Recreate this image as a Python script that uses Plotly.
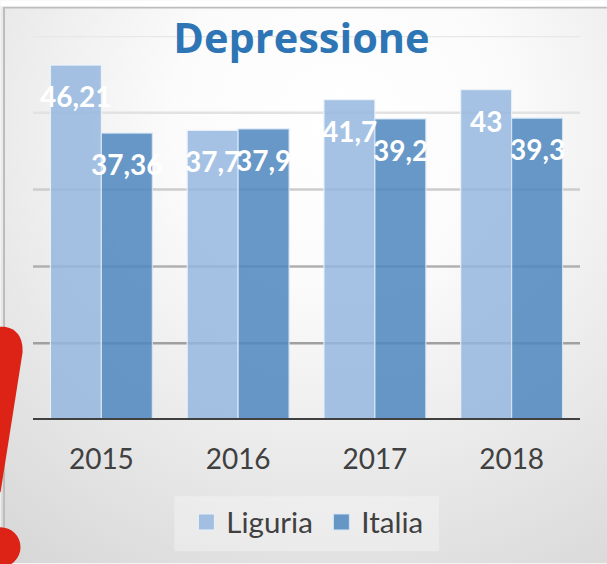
import plotly.graph_objects as go
import urllib.parse

years = ["2015", "2016", "2017", "2018"]
liguria = [46.21, 37.7, 41.7, 43]
italia = [37.36, 37.9, 39.2, 39.3]
liguria_labels = ["46,21", "37,7", "41,7", "43"]
italia_labels = ["37,36", "37,9", "39,2", "39,3"]
grid_values = [10, 20, 30, 40, 50]
grid_colors = ["#a0a0a0", "#b0b0b0", "#cdcdcd", "#e2e2e2", "#e8e8e8"]
title_text = "Depressione"
light = "rgba(148,182,223,0.84)"
dark = "rgba(78,135,190,0.86)"

W, H = 607, 564
L, R, T, B = 32.5, 27, 35.5, 143.5
pw, ph = W - L - R, H - T - B
px = lambda x: (x - L) / pw
py = lambda y: 1 - (y - T) / ph

svg = ("<svg xmlns='http://www.w3.org/2000/svg' width='607' height='564'>"
       "<defs><radialGradient id='g' gradientUnits='userSpaceOnUse' cx='340' cy='120' r='560'>"
       "<stop offset='0' stop-color='#ffffff'/><stop offset='0.3' stop-color='#fbfbfb'/>"
       "<stop offset='1' stop-color='#d6d6d6'/></radialGradient></defs>"
       "<rect x='0' y='0' width='607' height='564' fill='url(#g)'/></svg>")
bg = "data:image/svg+xml," + urllib.parse.quote(svg)

fig = go.Figure()
fig.add_bar(name="Liguria", x=years, y=liguria, legendgroup="Liguria", showlegend=False,
            marker=dict(color=light, line=dict(color="rgba(235,242,250,0.9)", width=1.2)))
fig.add_bar(name="Italia", x=years, y=italia, legendgroup="Italia", showlegend=False,
            marker=dict(color=dark, line=dict(color="rgba(215,230,245,0.9)", width=1.2)))
# legend keys, sized as in the reference (bar legend swatches have a fixed small size)
for name, col, edge in [("Liguria", light, "#eaf1f9"), ("Italia", dark, "#d7e6f5")]:
    fig.add_scatter(name=name, x=[None], y=[None], mode="markers", legendgroup=name,
                    marker=dict(symbol="square", size=16, color=col, line=dict(color=edge, width=1)))

annotations = []
for vals, labs, dx in [(liguria, liguria_labels, -25.5), (italia, italia_labels, 25.5)]:
    for i, (v, t) in enumerate(zip(vals, labs)):
        annotations.append(dict(x=i, y=v, text=t, showarrow=False, xref="x", yref="y", xshift=dx, yshift=-31,
                                font=dict(family="Lato", size=28, color="white", weight="bold")))

shapes = []
for v, c in zip(grid_values, grid_colors):
    shapes.append(dict(type="line", xref="paper", yref="y", x0=0, x1=1, y0=v, y1=v,
                       line=dict(color=c, width=2.5), layer="below"))
# baseline over the bars
shapes.append(dict(type="line", xref="paper", yref="y", x0=0, x1=1, y0=0, y1=0,
                   line=dict(color="#404040", width=4), layer="above"))
# frame
shapes.append(dict(type="path", xref="paper", yref="paper", layer="below",
                   path=f"M{px(3.5)},{py(564)} L{px(3.5)},{py(7)} L{px(607)},{py(7)}",
                   line=dict(color="#bdbdbd", width=2)))
# white strip above frame
shapes.append(dict(type="rect", xref="paper", yref="paper", layer="below", x0=px(0), x1=px(607), y0=py(0), y1=py(6),
                   fillcolor="white", line=dict(width=0)))
# legend panel
shapes.append(dict(type="rect", xref="paper", yref="paper", layer="below", x0=px(174), x1=px(439), y0=py(497), y1=py(552),
                   fillcolor="rgba(255,255,255,0.3)", line=dict(width=0)))
# red exclamation mark
shapes.append(dict(type="path", xref="paper", yref="paper", layer="above",
                   path=(f"M{px(-5)},{py(327)} L{px(4)},{py(327)} Q{px(23)},{py(330)} {px(22)},{py(353)} "
                         f"L{px(0)},{py(493)} L{px(-5)},{py(493)} Z"),
                   fillcolor="#dc2316", line=dict(width=0)))
shapes.append(dict(type="circle", xref="paper", yref="paper", layer="above",
                   x0=px(-20), x1=px(20), y0=py(528), y1=py(568),
                   fillcolor="#dc2316", line=dict(width=0)))

fig.update_layout(
    width=W, height=H, margin=dict(l=L, r=R, t=T, b=B, pad=0),
    paper_bgcolor="#f5f5f5", plot_bgcolor="rgba(0,0,0,0)",
    barmode="group", bargap=0.255, bargroupgap=0,
    title=dict(text=title_text, x=301.5 / W, xanchor="center", y=1 - 38 / H, yanchor="middle",
               font=dict(family="Open Sans", size=41.5, color="#2e75b6", weight="bold")),
    xaxis=dict(type="category", range=[-0.5, 3.5], showgrid=False, showline=False,
               ticks="", tickfont=dict(family="Lato", size=28, color="#404040"), ticklabelstandoff=20),
    yaxis=dict(range=[0, 50], showgrid=False, showticklabels=False, ticks="", zeroline=False),
    legend=dict(orientation="h", x=px(186), y=py(497), xanchor="left", yanchor="top",
                bgcolor="rgba(0,0,0,0)", font=dict(family="Lato", size=29.5, color="#404040"),
                itemwidth=30, entrywidth=90, entrywidthmode="pixels", traceorder="normal"),
    images=[dict(source=bg, xref="paper", yref="paper", x=px(0), y=py(0), sizex=W / pw, sizey=H / ph,
                 xanchor="left", yanchor="top", sizing="stretch", layer="below")],
    annotations=annotations, shapes=shapes, showlegend=True,
)
fig.write_html("out.html", config=dict(displayModeBar=False),
               post_script="document.body.style.margin='0';document.body.style.overflow='hidden';")
